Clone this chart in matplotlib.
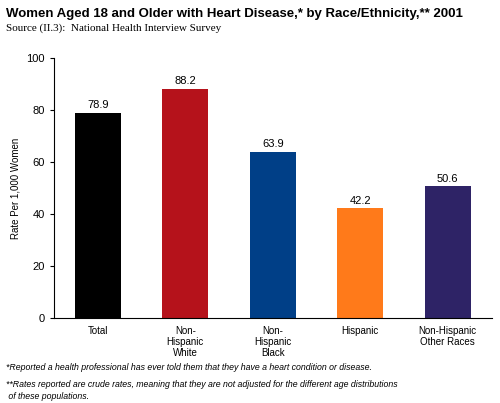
import matplotlib
matplotlib.use("Agg")
import matplotlib.pyplot as plt

categories = ["Total", "Non-\nHispanic\nWhite", "Non-\nHispanic\nBlack", "Hispanic", "Non-Hispanic\nOther Races"]
values = [78.9, 88.2, 63.9, 42.2, 50.6]
colors = ["#000000", "#b5121b", "#003f87", "#ff7a1a", "#2e2366"]

fig = plt.figure(figsize=(5.0, 4.03), dpi=100)
ax = fig.add_axes([0.108, 0.211, 0.875, 0.645])
x = range(len(values))
ax.bar(x, values, width=0.53, color=colors)
for i, v in zip(x, values):
    ax.text(i, v + 1, f"{v}", ha="center", va="bottom", fontsize=8, family="Liberation Sans")
ax.set_ylim(0, 100)
ax.set_xlim(-0.5, 4.5)
ax.set_yticks(range(0, 101, 20))
ax.set_xticks(list(x))
ax.set_xticklabels(categories, fontsize=7, family="Liberation Sans", va="top", linespacing=1.1)
ax.tick_params(axis="y", labelsize=8, length=3)
ax.tick_params(axis="x", length=0, pad=6)
for l in ax.get_yticklabels():
    l.set_family("Liberation Sans")
ax.set_ylabel("Rate Per 1,000 Women", fontsize=7, family="Liberation Sans")
ax.spines["top"].set_visible(False)
ax.spines["right"].set_visible(False)

fig.text(0.012, 0.965, "Women Aged 18 and Older with Heart Disease,* by Race/Ethnicity,** 2001",
         fontsize=9.5, fontweight="bold", family="Liberation Sans", va="center")
fig.text(0.012, 0.93, "Source (II.3):  National Health Interview Survey", fontsize=8,
         family="Liberation Serif", va="center")
fig.text(0.012, 0.087, "*Reported a health professional has ever told them that they have a heart condition or disease.",
         fontsize=6.3, style="italic", family="Liberation Sans", va="center")
fig.text(0.012, 0.047, "**Rates reported are crude rates, meaning that they are not adjusted for the different age distributions",
         fontsize=6.3, style="italic", family="Liberation Sans", va="center")
fig.text(0.012, 0.017, " of these populations.",
         fontsize=6.3, style="italic", family="Liberation Sans", va="center")
fig.savefig("out.png", dpi=100)
